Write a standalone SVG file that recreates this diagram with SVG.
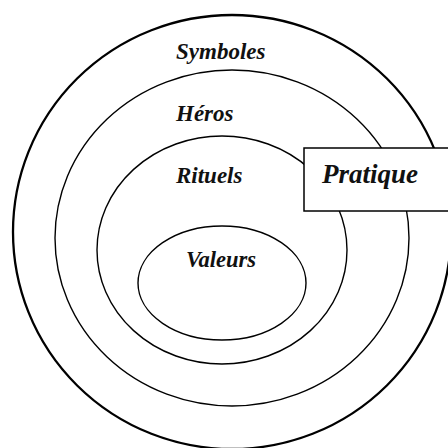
<svg xmlns="http://www.w3.org/2000/svg" width="448" height="448" viewBox="0 0 448 448">
<style>
.ring{fill:none;stroke:#000;stroke-width:1.4}
.outer{fill:none;stroke:#000;stroke-width:2.3}
.lbl{font-family:"Liberation Serif","Times New Roman",serif;font-style:italic;font-weight:bold;font-size:23px;fill:#111}
.box{fill:#fff;stroke:#000;stroke-width:1.5}
</style>
<rect width="448" height="448" fill="#fff"/>
<g id="symboles">
<ellipse class="outer" cx="232" cy="232" rx="219" ry="217"/>
<text class="lbl" x="176" y="59">Symboles</text>
</g>
<g id="heros">
<ellipse class="ring" cx="232" cy="238" rx="177" ry="168"/>
<text class="lbl" x="176" y="121">Héros</text>
</g>
<g id="rituels">
<ellipse class="ring" cx="222" cy="250" rx="125" ry="114"/>
<text class="lbl" x="176" y="183">Rituels</text>
</g>
<g id="valeurs">
<ellipse class="ring" cx="222" cy="283" rx="84" ry="57"/>
<text class="lbl" x="186" y="267" style="font-size:22.5px">Valeurs</text>
</g>
<g id="pratique">
<rect class="box" x="304" y="148" width="145" height="63"/>
<text class="lbl" x="322" y="183" style="font-size:27px">Pratique</text>
</g>
<g id="connectors"/>
</svg>
